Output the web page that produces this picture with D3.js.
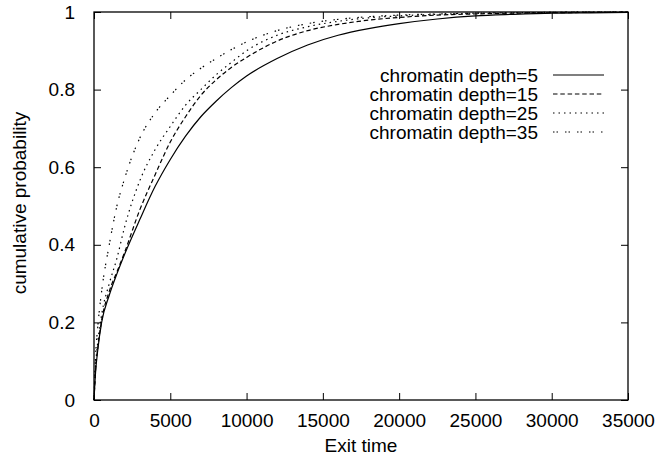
<!DOCTYPE html>
<html>
<head>
<meta charset="utf-8">
<script src="https://cdn.jsdelivr.net/npm/d3@7"></script>
<style>
  body { margin: 0; background: #fff; }
  text { font-family: "Liberation Sans", Arial, sans-serif; font-size: 19px; fill: #000; }
</style>
</head>
<body>
<svg width="656" height="457"></svg>
<script>
var exitTimes = [0, 100, 250, 500, 1000, 1500, 2000, 3000, 4000, 5000, 6000, 7000, 8000, 9000, 10000,
                 12000, 14000, 16000, 18000, 20000, 22500, 25000, 27500, 30000, 32500, 35000];

var depth5  = [0, 0.07, 0.13, 0.2, 0.27, 0.325, 0.375, 0.465, 0.55, 0.62, 0.68, 0.73, 0.77, 0.805, 0.835,
               0.88, 0.915, 0.94, 0.957, 0.97, 0.982, 0.99, 0.994, 0.997, 0.998, 0.999];
var depth15 = [0, 0.075, 0.135, 0.205, 0.28, 0.33, 0.38, 0.49, 0.58, 0.665, 0.73, 0.785, 0.825, 0.857, 0.883,
               0.925, 0.952, 0.968, 0.979, 0.986, 0.992, 0.995, 0.997, 0.998, 0.999, 1];
var depth25 = [0, 0.085, 0.15, 0.22, 0.3, 0.365, 0.445, 0.565, 0.645, 0.705, 0.76, 0.8, 0.838, 0.87, 0.9,
               0.94, 0.962, 0.976, 0.985, 0.99, 0.994, 0.997, 0.998, 0.999, 1, 1];
var depth35 = [0, 0.11, 0.19, 0.28, 0.4, 0.5, 0.57, 0.675, 0.74, 0.785, 0.825, 0.855, 0.88, 0.903, 0.923,
               0.952, 0.97, 0.981, 0.988, 0.992, 0.995, 0.997, 0.998, 0.999, 1, 1];

var seriesNames = ["chromatin depth=5", "chromatin depth=15", "chromatin depth=25", "chromatin depth=35"];
var seriesValues = [depth5, depth15, depth25, depth35];
var seriesDash = ["none", "4.5,2.8", "1.5,4", "1.5,2,1.5,7"];

var xTicks = [0, 5000, 10000, 15000, 20000, 25000, 30000, 35000];
var yTicks = [0, 0.2, 0.4, 0.6, 0.8, 1];

var margin = {left: 94, right: 628, top: 12, bottom: 400};
var tickLen = 7;

var svg = d3.select("svg");

var x = d3.scaleLinear().domain([0, 35000]).range([margin.left, margin.right]);
var y = d3.scaleLinear().domain([0, 1]).range([margin.bottom, margin.top]);

// curves
var line = d3.line()
  .x(function(d) { return x(d[0]); })
  .y(function(d) { return y(d[1]); })
  .curve(d3.curveMonotoneX);

var curves = svg.append("g").attr("class", "curves");
seriesValues.forEach(function(vals, i) {
  var pts = exitTimes.map(function(t, j) { return [t, vals[j]]; });
  curves.append("path")
    .attr("d", line(pts))
    .attr("fill", "none")
    .attr("stroke", "#000")
    .attr("stroke-width", 1.2)
    .attr("stroke-dasharray", seriesDash[i]);
});

// axes with inward ticks, mirrored
var axes = svg.append("g").attr("class", "axes");

axes.append("g")
  .attr("transform", "translate(0," + margin.bottom + ")")
  .call(d3.axisBottom(x).tickValues(xTicks).tickSizeInner(-tickLen).tickSizeOuter(0).tickPadding(14)
    .tickFormat(d3.format("d")));
axes.append("g")
  .attr("transform", "translate(0," + margin.top + ")")
  .call(d3.axisTop(x).tickValues(xTicks).tickSizeInner(-tickLen).tickSizeOuter(0).tickFormat(""));
axes.append("g")
  .attr("transform", "translate(" + margin.left + ",0)")
  .call(d3.axisLeft(y).tickValues(yTicks).tickSizeInner(-tickLen).tickSizeOuter(0).tickPadding(19)
    .tickFormat(function(d) { return d3.format("")(d); }));
axes.append("g")
  .attr("transform", "translate(" + margin.right + ",0)")
  .call(d3.axisRight(y).tickValues(yTicks).tickSizeInner(-tickLen).tickSizeOuter(0).tickFormat(""));

axes.selectAll(".domain").remove();
axes.selectAll("line").attr("stroke", "#000").attr("stroke-width", 1);
axes.selectAll("text")
  .style("font-family", "'Liberation Sans', Arial, sans-serif")
  .style("font-size", "19px")
  .attr("fill", "#000");

svg.append("rect")
  .attr("x", margin.left)
  .attr("y", margin.top)
  .attr("width", margin.right - margin.left)
  .attr("height", margin.bottom - margin.top)
  .attr("fill", "none")
  .attr("stroke", "#000")
  .attr("stroke-width", 1.3);

// axis titles
svg.append("text")
  .attr("x", (margin.left + margin.right) / 2)
  .attr("y", 452)
  .attr("text-anchor", "middle")
  .text("Exit time");

svg.append("text")
  .attr("transform", "translate(26," + 203 + ") rotate(-90)")
  .attr("text-anchor", "middle")
  .text("cumulative probability");

// legend
var legend = svg.append("g").attr("class", "legend");
seriesNames.forEach(function(name, i) {
  var ly = 75 + i * 19;
  legend.append("text")
    .attr("x", 538)
    .attr("y", ly + 7)
    .attr("text-anchor", "end")
    .text(name);
  legend.append("line")
    .attr("x1", 553)
    .attr("x2", 604)
    .attr("y1", ly)
    .attr("y2", ly)
    .attr("stroke", "#000")
    .attr("stroke-width", 1.2)
    .attr("stroke-dasharray", seriesDash[i]);
});
</script>
</body>
</html>
